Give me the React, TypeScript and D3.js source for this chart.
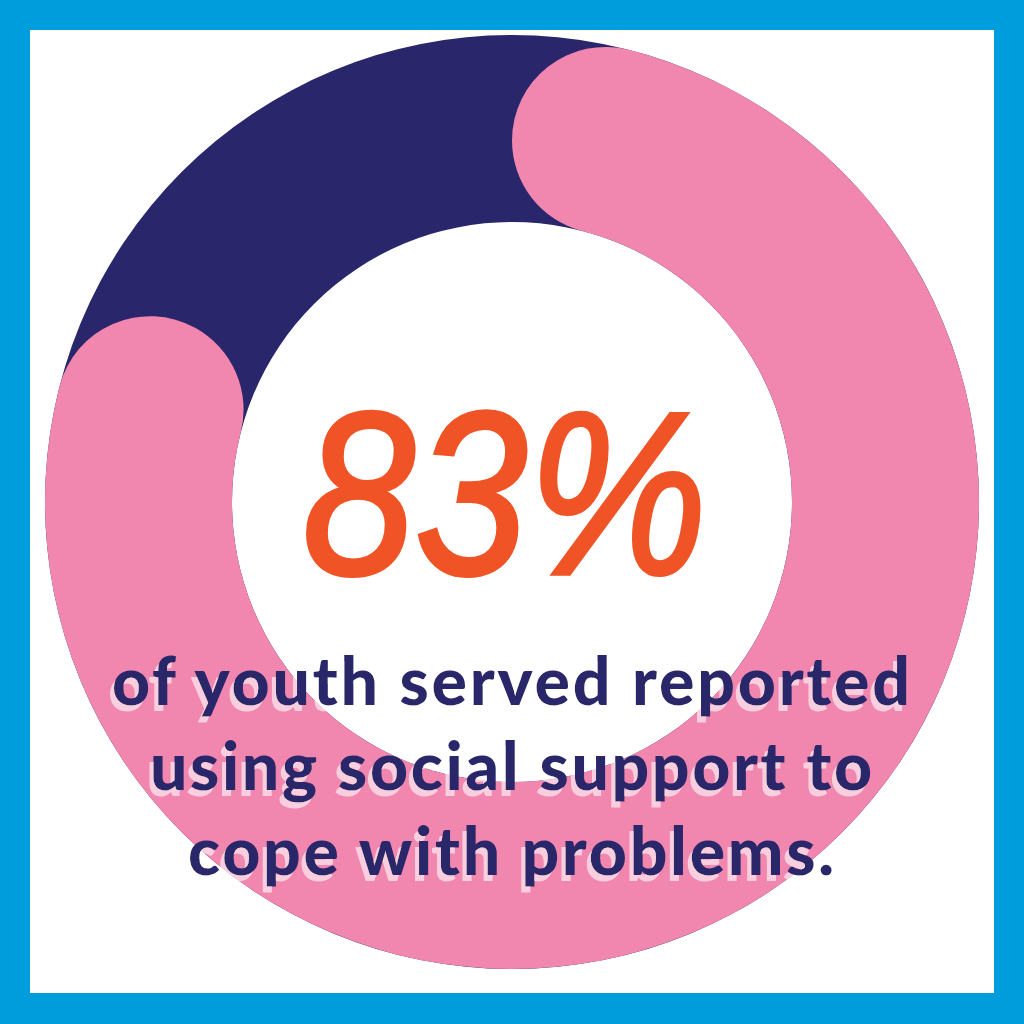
import React from "react";
import * as d3 from "d3";

const percentValue = [83];
const totalValue = [100];
const headline = ["83%"];
const captionLines = [
  "of youth served reported",
  "using social support to",
  "cope with problems.",
];
const captionWidths = [798, 722, 646];

export default function App() {
  const W = 1024;
  const H = 1024;
  const cx = 512;
  const cy = 502;
  const outerR = 467;
  const innerR = 280;
  const angle = d3.scaleLinear().domain([0, totalValue[0]]).range([0, 2 * Math.PI]);

  const ringArc = d3.arc<any>().innerRadius(innerR).outerRadius(outerR);
  const bgPath = ringArc({ startAngle: 0, endAngle: 2 * Math.PI }) as string;
  const fgPath = d3
    .arc<any>()
    .innerRadius(innerR)
    .outerRadius(outerR)
    .cornerRadius((outerR - innerR) / 2)({
    startAngle: angle(0),
    endAngle: angle(percentValue[0]),
  }) as string;

  const baselines = [705, 790, 875];
  const fontFamily = "Lato, 'Open Sans', sans-serif";

  return (
    <svg
      width={W}
      height={H}
      style={{ position: "absolute", left: 0, top: 0, display: "block" }}
    >
      <defs>
        <filter id="softShadow" x="-10%" y="-30%" width="120%" height="160%">
          <feOffset in="SourceAlpha" dx={-4} dy={6} result="off" />
          <feFlood floodColor="#ffffff" floodOpacity={0.6} result="col" />
          <feComposite in="col" in2="off" operator="in" result="shadow" />
          <feMerge>
            <feMergeNode in="shadow" />
            <feMergeNode in="SourceGraphic" />
          </feMerge>
        </filter>
      </defs>
      <rect x={0} y={0} width={W} height={H} fill="#009DDD" />
      <rect x={30} y={30} width={964} height={963} fill="#ffffff" />
      <g transform={`translate(${cx},${cy})`}>
        <path d={bgPath} fill="#29266B" />
        <path d={fgPath} fill="#F186AE" />
      </g>
      <text
        x={505}
        y={574}
        textAnchor="middle"
        fontFamily="'Liberation Sans', sans-serif"
        fontStyle="italic"
        fontSize={232}
        fill="#F05325"
        stroke="#F05325"
        strokeWidth={4}
        textLength={405}
        lengthAdjust="spacingAndGlyphs"
      >
        {headline[0]}
      </text>
      <g filter="url(#softShadow)">
        {captionLines.map((line, i) => (
          <text
            key={"t" + i}
            x={511}
            y={baselines[i]}
            textAnchor="middle"
            fontFamily={fontFamily}
            fontWeight={900}
            fontSize={66}
            fill="#29266B"
            textLength={captionWidths[i]}
            lengthAdjust="spacing"
          >
            {line}
          </text>
        ))}
      </g>
    </svg>
  );
}
